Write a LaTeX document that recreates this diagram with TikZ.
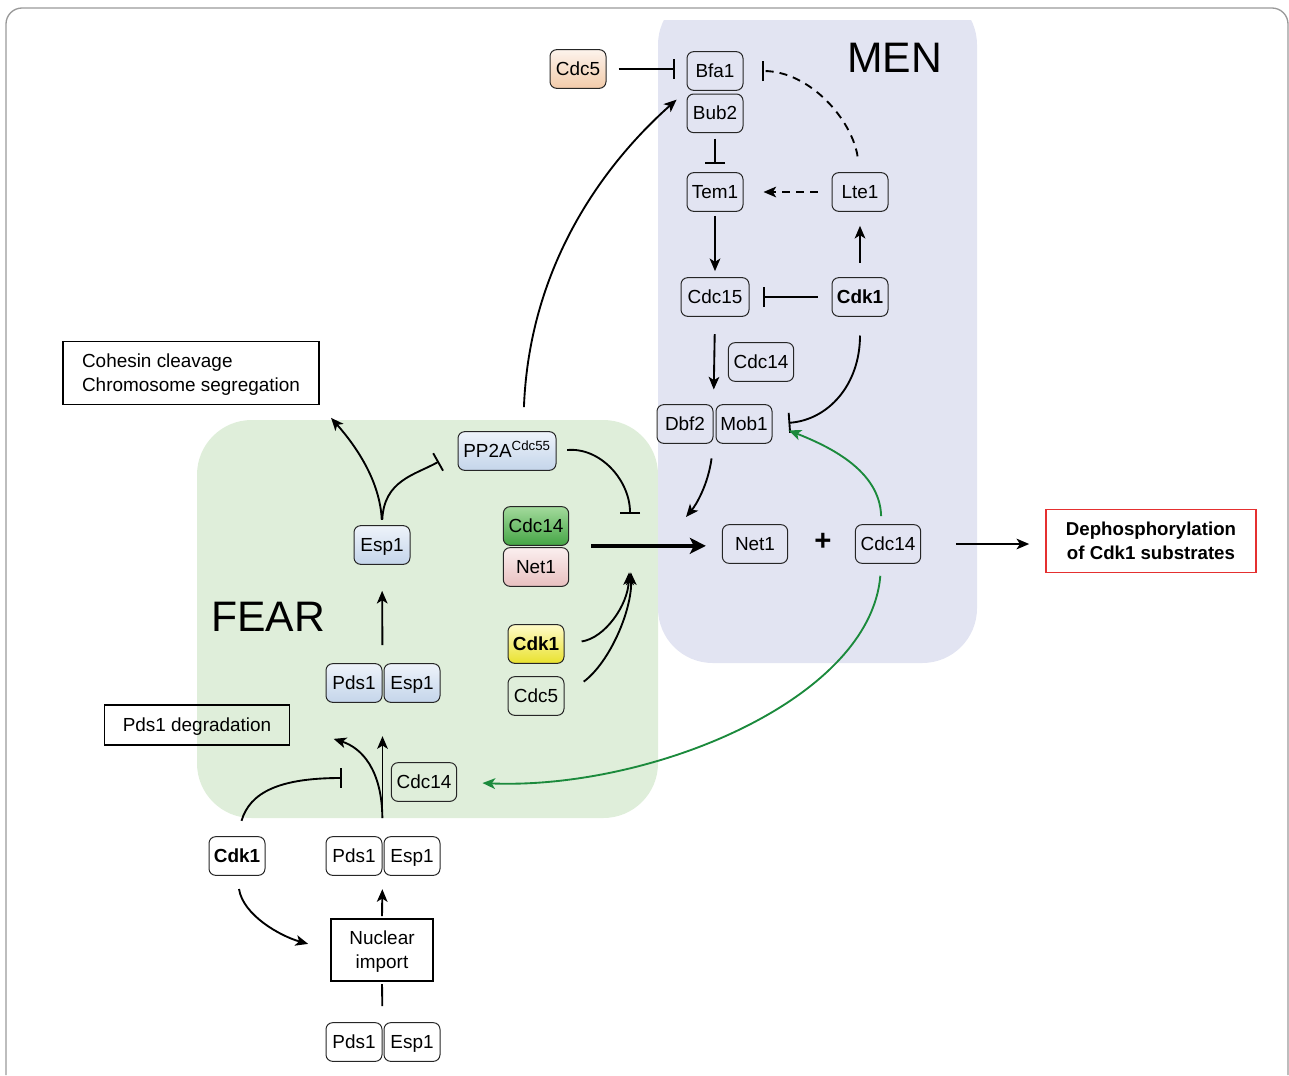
\documentclass[tikz,border=0pt]{standalone}
\usepackage{fontspec}
\setmainfont{Liberation Sans}
\usetikzlibrary{arrows.meta, positioning}

\definecolor{fearbg}{HTML}{DFEEDA}
\definecolor{menbg}{HTML}{E2E4F2}
\definecolor{actgreen}{HTML}{1B8A3C}
\definecolor{outred}{HTML}{E53030}
\definecolor{blutop}{HTML}{EEF3FA}
\definecolor{blubot}{HTML}{C4D5EA}
\definecolor{grntop}{HTML}{A3DA9C}
\definecolor{grnbot}{HTML}{45A545}
\definecolor{pnktop}{HTML}{FBEFEF}
\definecolor{pnkbot}{HTML}{E8C0C0}
\definecolor{ylwtop}{HTML}{FFFBC8}
\definecolor{ylwbot}{HTML}{E9E22E}
\definecolor{pchtop}{HTML}{FDF3EC}
\definecolor{pchbot}{HTML}{F2CBAA}

\tikzset{
    prot/.style={draw=black!85, line width=0.75pt, rounded corners=5pt,
        minimum width=42pt, minimum height=29pt, inner sep=2pt,
        text height=10pt, text depth=1pt},
    blu/.style={top color=blutop, bottom color=blubot},
    grn/.style={top color=grntop, bottom color=grnbot},
    pnk/.style={top color=pnktop, bottom color=pnkbot},
    ylw/.style={top color=ylwtop, bottom color=ylwbot},
    pch/.style={top color=pchtop, bottom color=pchbot},
    txtbox/.style={draw, line width=1.2pt, align=center, inner sep=2pt, text depth=0pt,
        font=\fontsize{14.2}{18}\selectfont},
    outbox/.style={txtbox, draw=outred, font=\bfseries\fontsize{14}{18}\selectfont},
    act/.style={->, line width=1.4pt},
    inh/.style={-{Bar[width=15pt]}, line width=1.4pt},
    dashln/.style={dash pattern=on 6pt off 4.5pt},
    region/.style={font=\fontsize{32}{32}\selectfont, anchor=base west, inner sep=0pt},
}

\begin{document}
\begin{tikzpicture}[
    x=0.75pt, y=-0.75pt,
    >={Stealth[length=9.5pt,width=8pt,inset=2.5pt]},
    font=\fontsize{14.2}{16.5}\selectfont,
]
    \useasboundingbox (0,0) rectangle (1289,1075);

    % frame and the two regions
    \draw[black!40, line width=1pt, rounded corners=12pt]
        (6,1075) -- (6,8) -- (1288,8) -- (1288,1075);
    \fill[fearbg, rounded corners=41pt] (197,420) rectangle (658,818);
    \begin{scope}
        \clip (0,20) rectangle (1289,1075);
        \fill[menbg, rounded corners=41pt] (658,-10) rectangle (977,663);
    \end{scope}
    \node[region] (mentxt)  at (847,72)  {MEN};
    \node[region] (feartxt) at (211,631) {FEAR};

    % MEN
    \node[prot, pch] (cdc5t) at (578,69) {Cdc5};
    \node[prot] (bfa1) at (715,71) {Bfa1};
    \node[prot, below=2pt of bfa1] (bub2) {Bub2};
    \node[prot] (tem1) at (715,192) {Tem1};
    \node[prot] (lte1) at (860,192) {Lte1};
    \node[prot, minimum width=51pt] (cdc15) at (715,297) {Cdc15};
    \node[prot] (cdk1m) at (860,297) {\textbf{Cdk1}};
    \node[prot, minimum width=49pt] (cdc14m) at (761,362) {Cdc14};
    \node[prot] (dbf2) at (685,424) {Dbf2};
    \node[prot, right=1.5pt of dbf2] (mob1) {Mob1};
    \node[prot, minimum width=49pt] (net1m) at (755,544) {Net1};
    \node[font=\bfseries\fontsize{22}{22}\selectfont] (plus) at (823,542) {+};
    \node[prot, minimum width=49pt] (cdc14r) at (888,544) {Cdc14};
    \node[outbox, minimum width=157.5pt, minimum height=47pt] (dephos) at (1151,541)
        {Dephosphorylation\\of Cdk1 substrates};

    % FEAR
    \node[txtbox, align=left, minimum width=192pt, minimum height=47pt] (cohesin) at (191,373)
        {Cohesin cleavage\\Chromosome segregation};
    \node[prot, blu, minimum width=73.5pt] (pp2a) at (507,451) {PP2A\textsuperscript{Cdc55}};
    \node[prot, blu] (esp1) at (382,545) {Esp1};
    \node[prot, grn, minimum width=49pt] (cdc14f) at (536,526) {Cdc14};
    \node[prot, pnk, minimum width=49pt, below=1pt of cdc14f] (net1f) {Net1};
    \node[prot, ylw] (cdk1y) at (536,644) {\textbf{Cdk1}};
    \node[prot] (cdc5f) at (536,696) {Cdc5};
    \node[prot, blu] (pdsA) at (354,683) {Pds1};
    \node[prot, blu, right=0.75pt of pdsA] (espA) {Esp1};
    \node[txtbox, minimum width=139pt, minimum height=30pt] (pdsdeg) at (197,725) {Pds1 degradation};
    \node[prot, minimum width=49pt] (cdc14b) at (424,782) {Cdc14};

    % nuclear import
    \node[prot, fill=white] (cdk1b) at (237,856) {\textbf{Cdk1}};
    \node[prot] (pdsB) at (354,856) {Pds1};
    \node[prot, right=0.75pt of pdsB] (espB) {Esp1};
    \node[txtbox, line width=1.5pt, minimum width=76.5pt, minimum height=46.5pt] (nuc) at (382,950)
        {Nuclear\\import};
    \node[prot] (pdsC) at (354,1042) {Pds1};
    \node[prot, right=0.75pt of pdsC] (espC) {Esp1};

    \coordinate (hub) at (686,517);
    \coordinate (actmid) at (630,543);
    \coordinate (degbar) at (342,778);

    % MEN edges
    \draw[inh, shorten <=9pt, shorten >=9pt] (cdc5t.east) -- (cdc5t.east -| bfa1.west);
    \draw[inh, dashln, shorten <=12pt, shorten >=14pt]
        (lte1.north) .. controls (852,120) and (810,71) .. (bfa1.east);
    \draw[inh, shorten <=4pt, shorten >=6pt] (bub2.south) -- (tem1.north);
    \draw[act, dashln, shorten <=10.5pt, shorten >=15pt] (lte1.west) -- (tem1.east);
    \draw[act, shorten <=3pt, shorten >=4.5pt] (tem1.south) -- (cdc15.north);
    \draw[act, shorten <=11pt, shorten >=10.5pt] (cdk1m.north) -- (lte1.south);
    \draw[inh, shorten <=10.5pt, shorten >=10pt] (cdk1m.west) -- (cdc15.east);
    \draw[act, shorten <=13pt, shorten >=11pt] (cdc15.south) -- (dbf2.north east);
    \draw[inh, shorten <=14pt, shorten >=12pt]
        (cdk1m.south) .. controls (860,385) and (828,420) .. (mob1.east);
    \draw[act, shorten <=11pt] (dbf2.south east) .. controls (708,485) and (696,505) .. (hub);

    % Cdc14 release
    \draw[act, line width=3.5pt, -{Stealth[length=12pt,width=12pt,inset=3pt]},
        shorten <=16.5pt, shorten >=12pt] (cdc14f.south east) -- (cdc14f.south east -| net1m.west);
    \draw[act, shorten <=26pt, shorten >=12pt] (cdc14r.east) -- (cdc14r.east -| dephos.west);
    \draw[act, actgreen, shorten <=6pt, shorten >=13pt]
        ([xshift=-5pt]cdc14r.north) .. controls (880,470) and (828,446) .. (mob1.east);
    \draw[act, actgreen, shorten <=9pt, shorten >=19pt]
        ([xshift=-5pt]cdc14r.south) .. controls (870,700) and (650,790) .. (cdc14b.east);

    % FEAR edges
    \draw[inh, shorten <=8pt, shorten >=22pt] (pp2a.east) .. controls (600,447) and (630,480) .. (actmid);
    \draw[act, shorten <=13pt, shorten >=22pt] (cdk1y.east) .. controls (605,638) and (628,605) .. (actmid);
    \draw[act, shorten <=18pt, shorten >=22pt] (cdc5f.east) .. controls (610,662) and (632,610) .. (actmid);
    \draw[act, shorten <=4pt, shorten >=12.75pt]
        (esp1.north) .. controls (380,480) and (355,445) .. (cohesin.south east);
    \draw[inh, shorten <=4pt, shorten >=16pt]
        (esp1.north) .. controls (384,480) and (415,475) .. (pp2a.west);
    \draw[act, shorten <=18pt, shorten >=10pt]
        ([xshift=12pt]pp2a.north) .. controls (530,250) and (620,150) .. (bfa1.south west);
    \draw[act, shorten <=13.5pt, shorten >=19.5pt] (pdsA.north east) -- (esp1.south);

    % degradation and import
    \draw[act, shorten <=13.5pt, shorten >=25pt] (pdsB.north east) -- (pdsA.south east);
    \draw[act, shorten <=13.5pt, shorten >=34pt]
        (pdsB.north east) .. controls (382,770) and (362,748) .. (pdsdeg.east);
    \draw[inh, shorten <=12pt] (cdk1b.north) .. controls (250,792) and (280,778) .. (degbar);
    \draw[act, shorten <=10pt, shorten >=17pt]
        (cdk1b.south) .. controls (243,915) and (280,936) .. (nuc.west);
    \draw[act, shorten <=1.5pt, shorten >=10pt] (nuc.north) -- (pdsB.south east);
    \draw[line width=1.4pt, shorten <=12pt, shorten >=1.5pt] (pdsC.north east) -- (nuc.south);
\end{tikzpicture}
\end{document}
